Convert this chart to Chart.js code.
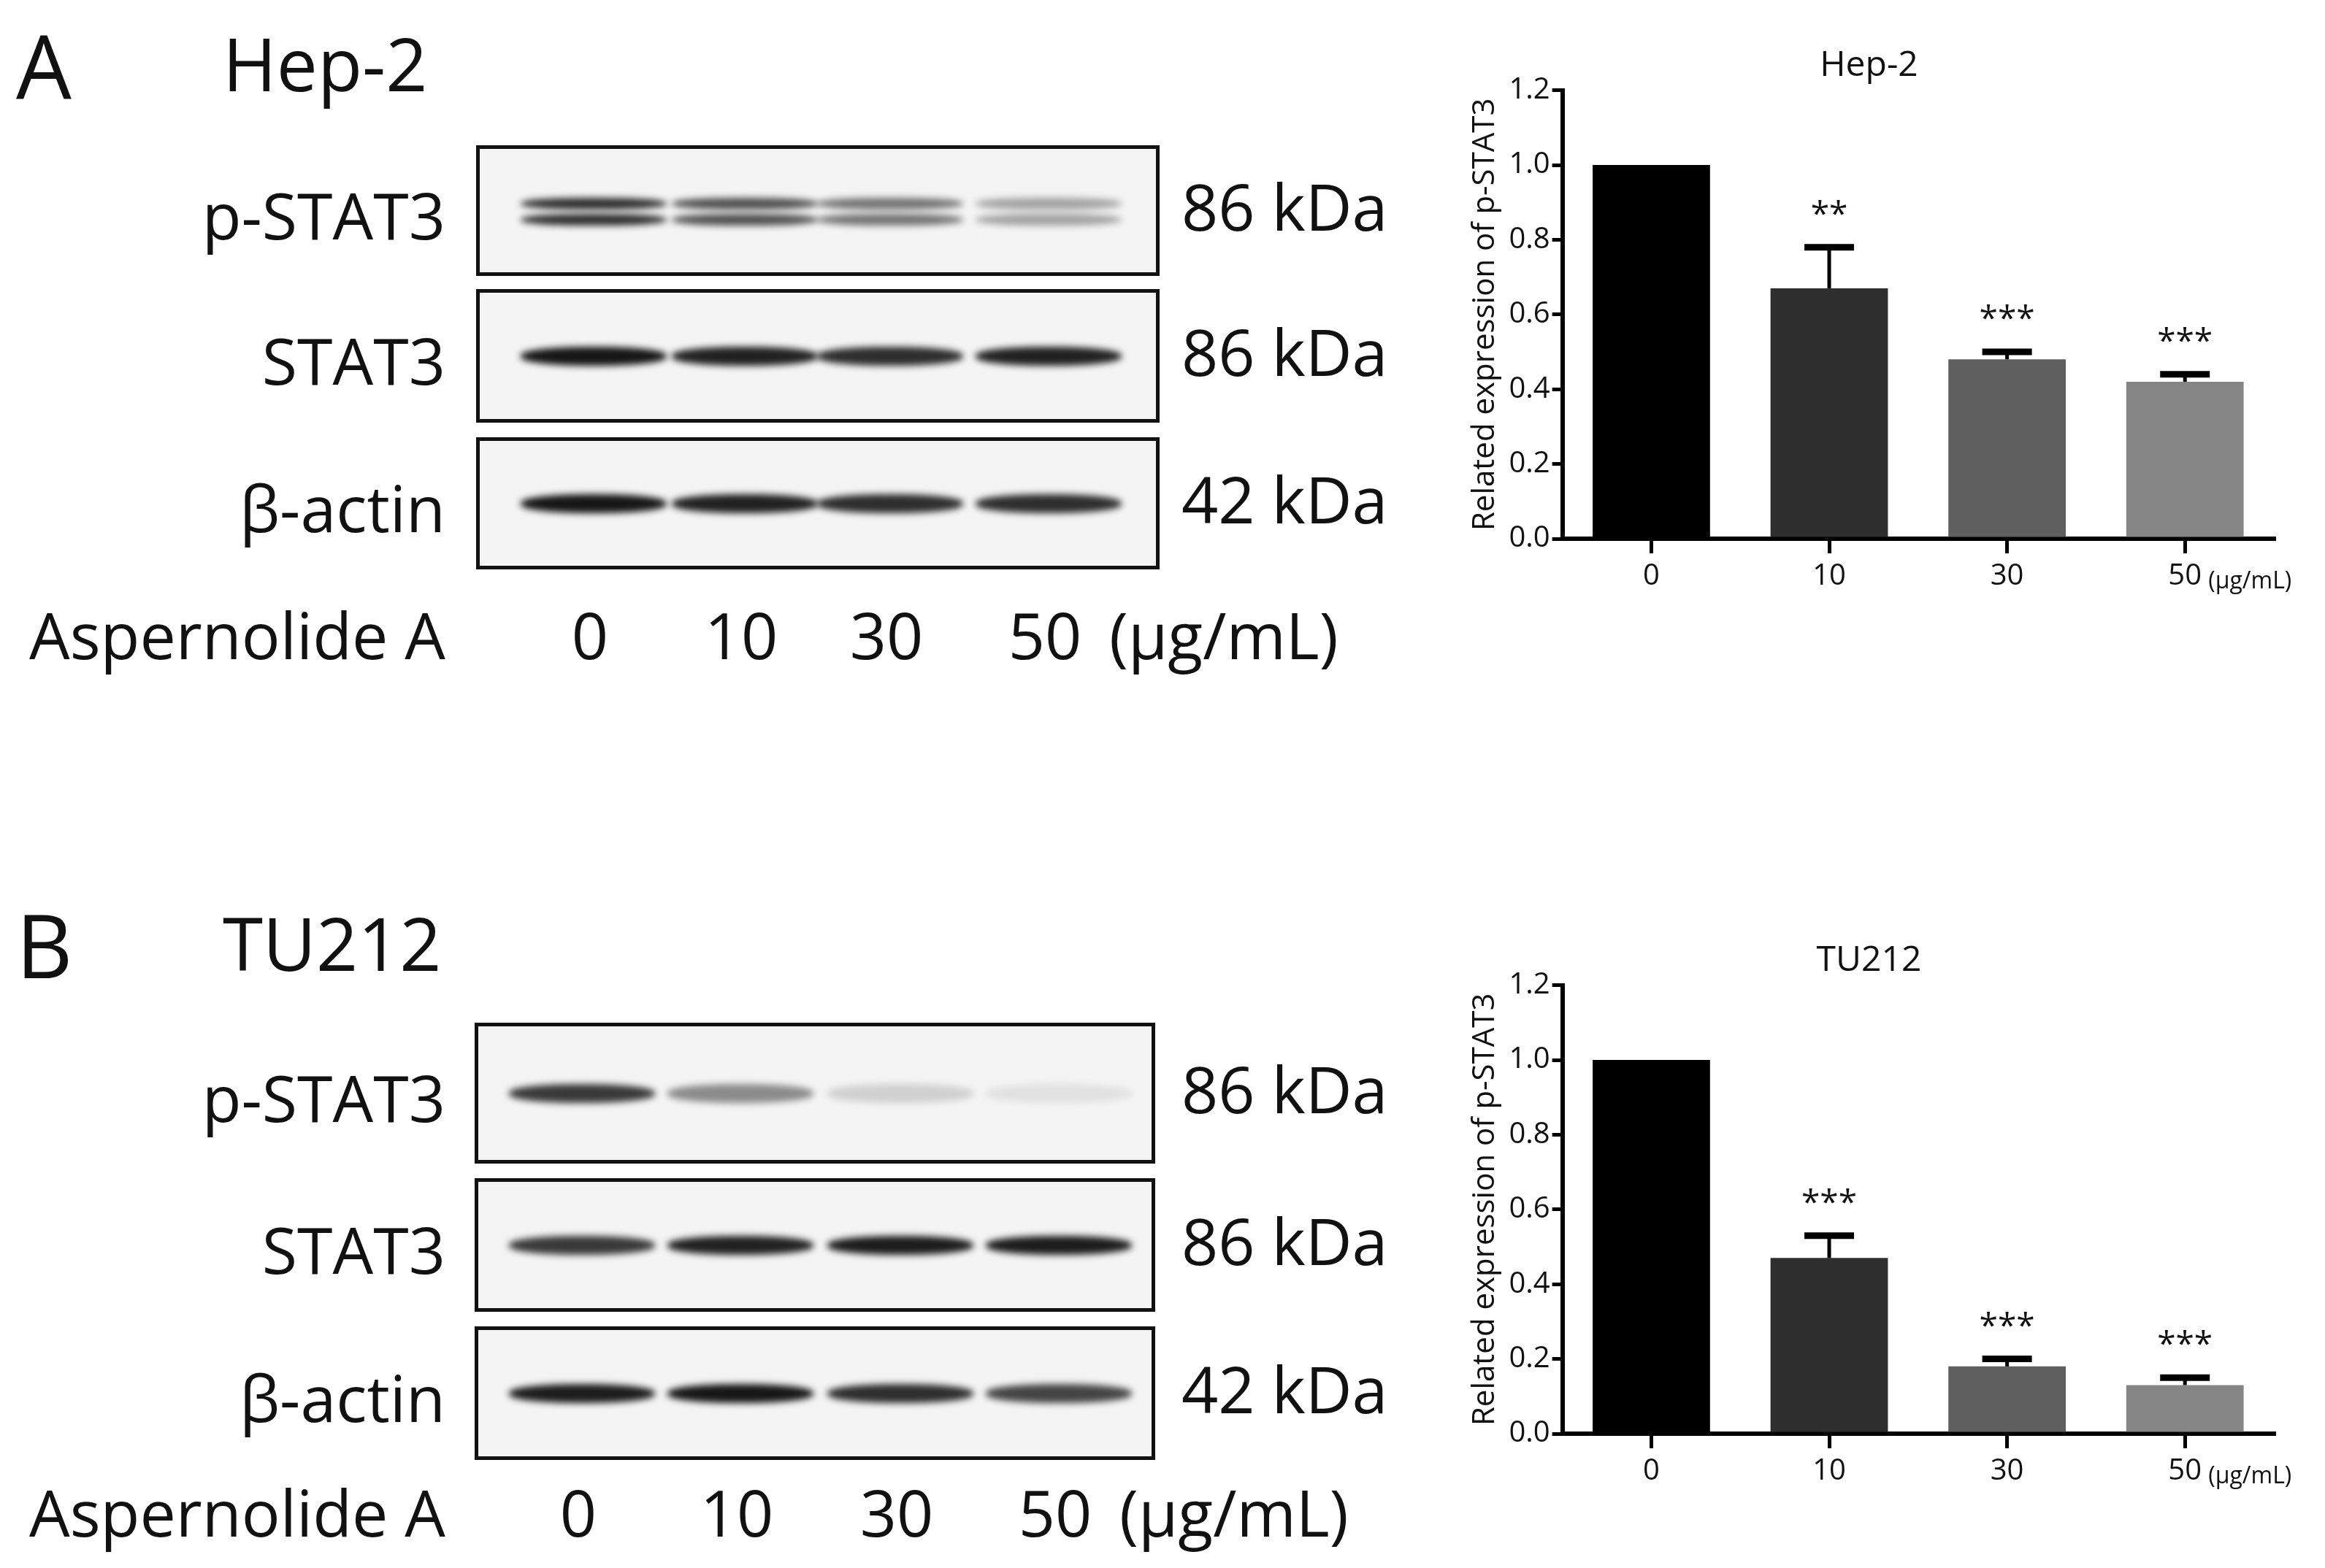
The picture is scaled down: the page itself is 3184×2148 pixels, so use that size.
<!DOCTYPE html>
<html>
<head>
<meta charset="utf-8">
<script src="https://cdn.jsdelivr.net/npm/chart.js@4.4.0/dist/chart.umd.min.js"></script>
<style>
  body { margin: 0; width: 3184px; height: 2148px; background: #fff; position: relative; overflow: hidden; font-family: "Open Sans", sans-serif; }
  .t { position: absolute; color: #111; white-space: nowrap; line-height: 1; }
  .blot { position: absolute; border: 5px solid #111; background: #f4f4f4; box-sizing: border-box; overflow: hidden; }
  .band { position: absolute; border-radius: 45%; filter: blur(5px); }
  .chartbox { position: absolute; }
</style>
</head>
<body>
<div id="page"></div>
<div class="chartbox" style="left:1995px;top:62px;width:1189px;height:760px"><canvas id="c1"></canvas></div>
<div class="chartbox" style="left:1995px;top:1288px;width:1189px;height:760px"><canvas id="c2"></canvas></div>
<script>
// chart data
const doses = ['0', '10', '30', '50'];
const hepValues = [1.0, 0.67, 0.48, 0.42];
const hepErrTop = [1.0, 0.78, 0.50, 0.44];
const hepStars = ['', '**', '***', '***'];
const tuValues = [1.0, 0.47, 0.18, 0.13];
const tuErrTop = [1.0, 0.53, 0.20, 0.15];
const tuStars = ['', '***', '***', '***'];
const barColors = ['#000000', '#2e2e2e', '#5f5f5f', '#858585'];

// blot band intensities (0..1) per lane
const blotRows = ['p-STAT3', 'STAT3', 'β-actin'];
const blotKda = ['86 kDa', '86 kDa', '42 kDa'];
const hepBands = [[0.85, 0.7, 0.55, 0.35], [0.95, 0.9, 0.85, 0.9], [0.95, 0.9, 0.85, 0.85]];
const tuBands = [[0.8, 0.45, 0.15, 0.08], [0.8, 0.9, 0.92, 0.92], [0.92, 0.95, 0.85, 0.75]];

const page = document.getElementById('page');
function text(s, x, y, size, align) {
  const d = document.createElement('div');
  d.className = 't';
  d.textContent = s;
  d.style.fontSize = size + 'px';
  d.style.top = (y - size * 0.55) + 'px';
  if (align === 'right') { d.style.right = (3184 - x) + 'px'; }
  else if (align === 'center') { d.style.left = x + 'px'; d.style.transform = 'translateX(-50%)'; }
  else { d.style.left = x + 'px'; }
  page.appendChild(d);
}

function blotPanel(letter, cell, top, boxes, lanes, bands, doseY, pRow) {
  text(letter, 22, top, 120, 'left');
  text(cell, 305, top - 4, 100, 'left');
  boxes.forEach((b, r) => {
    const box = document.createElement('div');
    box.className = 'blot';
    box.style.left = b[0] + 'px'; box.style.top = b[1] + 'px';
    box.style.width = (b[2] - b[0]) + 'px'; box.style.height = (b[3] - b[1]) + 'px';
    const h = b[3] - b[1];
    lanes.forEach((lx, i) => {
      const v = bands[r][i];
      const stripes = (r === 0 && pRow) ? [-10, 12] : [0];
      stripes.forEach(off => {
        const bd = document.createElement('div');
        bd.className = 'band';
        const w = 200, bh = (r === 0 && pRow) ? 16 : 26;
        bd.style.width = w + 'px'; bd.style.height = bh + 'px';
        bd.style.left = (lx - b[0] - w / 2) + 'px';
        bd.style.top = (h / 2 - bh / 2 + off - 5) + 'px';
        bd.style.background = 'rgba(10,10,10,' + v + ')';
        box.appendChild(bd);
      });
    });
    page.appendChild(box);
    const cy = (b[1] + b[3]) / 2;
    text(blotRows[r], 610, cy + 10, 88, 'right');
    text(blotKda[r], 1618, cy - 2, 88, 'left');
  });
  text('Aspernolide A', 40, doseY, 88, 'left');
  doses.forEach((d, i) => text(d, lanes[i], doseY, 88, 'center'));
  text('(μg/mL)', lanes[3] + 88, doseY, 88, 'left');
}

blotPanel('A', 'Hep-2', 95,
  [[652, 199, 1588, 378], [652, 396, 1588, 579], [652, 599, 1588, 780]],
  [808, 1015, 1214, 1431], hepBands, 873, true);
blotPanel('B', 'TU212', 1300,
  [[650, 1401, 1582, 1594], [650, 1614, 1582, 1797], [650, 1817, 1582, 2000]],
  [792, 1009, 1228, 1445], tuBands, 2075, false);

// error bars, stars and unit label
const extras = {
  id: 'extras',
  afterDatasetsDraw(chart, args, opts) {
    const ctx = chart.ctx, x = chart.scales.x, y = chart.scales.y;
    const meta = chart.getDatasetMeta(0);
    ctx.save();
    ctx.strokeStyle = '#000';
    ctx.fillStyle = '#111';
    opts.errTop.forEach((e, i) => {
      const bar = meta.data[i];
      const top = y.getPixelForValue(e), base = y.getPixelForValue(opts.values[i]);
      if (e > opts.values[i]) {
        ctx.lineWidth = 5;
        ctx.beginPath(); ctx.moveTo(bar.x, base); ctx.lineTo(bar.x, top); ctx.stroke();
        ctx.lineWidth = 9;
        ctx.beginPath(); ctx.moveTo(bar.x - 34, top); ctx.lineTo(bar.x + 34, top); ctx.stroke();
      }
      ctx.font = '46px "Open Sans"';
      ctx.textAlign = 'center';
      ctx.fillText(opts.stars[i], bar.x, top - 30);
    });
    ctx.font = '32px "Open Sans"';
    ctx.textAlign = 'left';
    ctx.fillText('(μg/mL)', x.getPixelForValue(3) + 32, x.bottom - 16);
    ctx.restore();
  }
};

function makeChart(id, title, values, errTop, stars) {
  new Chart(document.getElementById(id), {
    type: 'bar',
    data: {
      labels: doses,
      datasets: [{ data: values, backgroundColor: barColors, barPercentage: 0.66, categoryPercentage: 1 }]
    },
    plugins: [extras],
    options: {
      responsive: true, maintainAspectRatio: false, animation: false,
      layout: { padding: { left: 10, right: 70, top: 0, bottom: 0 } },
      plugins: {
        legend: { display: false }, tooltip: { enabled: false },
        title: { display: true, text: title, color: '#111', font: { family: 'Open Sans', size: 48, weight: 'normal' }, padding: { top: 0, bottom: 4 } },
        extras: { values: values, errTop: errTop, stars: stars }
      },
      scales: {
        x: {
          grid: { display: true, drawOnChartArea: false, offset: false, color: '#000', lineWidth: 5, tickLength: 20 },
          border: { color: '#000', width: 6 },
          ticks: { color: '#111', font: { family: 'Open Sans', size: 40 }, padding: 8 }
        },
        y: {
          min: 0, max: 1.2,
          grid: { display: true, drawOnChartArea: false, color: '#000', lineWidth: 5, tickLength: 14 },
          border: { color: '#000', width: 6 },
          ticks: { stepSize: 0.2, color: '#111', font: { family: 'Open Sans', size: 40 }, callback: v => v.toFixed(1) },
          title: { display: true, text: 'Related expression of p-STAT3', color: '#111', font: { family: 'Open Sans', size: 42 }, padding: 4 }
        }
      }
    }
  });
}

makeChart('c1', 'Hep-2', hepValues, hepErrTop, hepStars);
makeChart('c2', 'TU212', tuValues, tuErrTop, tuStars);
</script>
</body>
</html>
